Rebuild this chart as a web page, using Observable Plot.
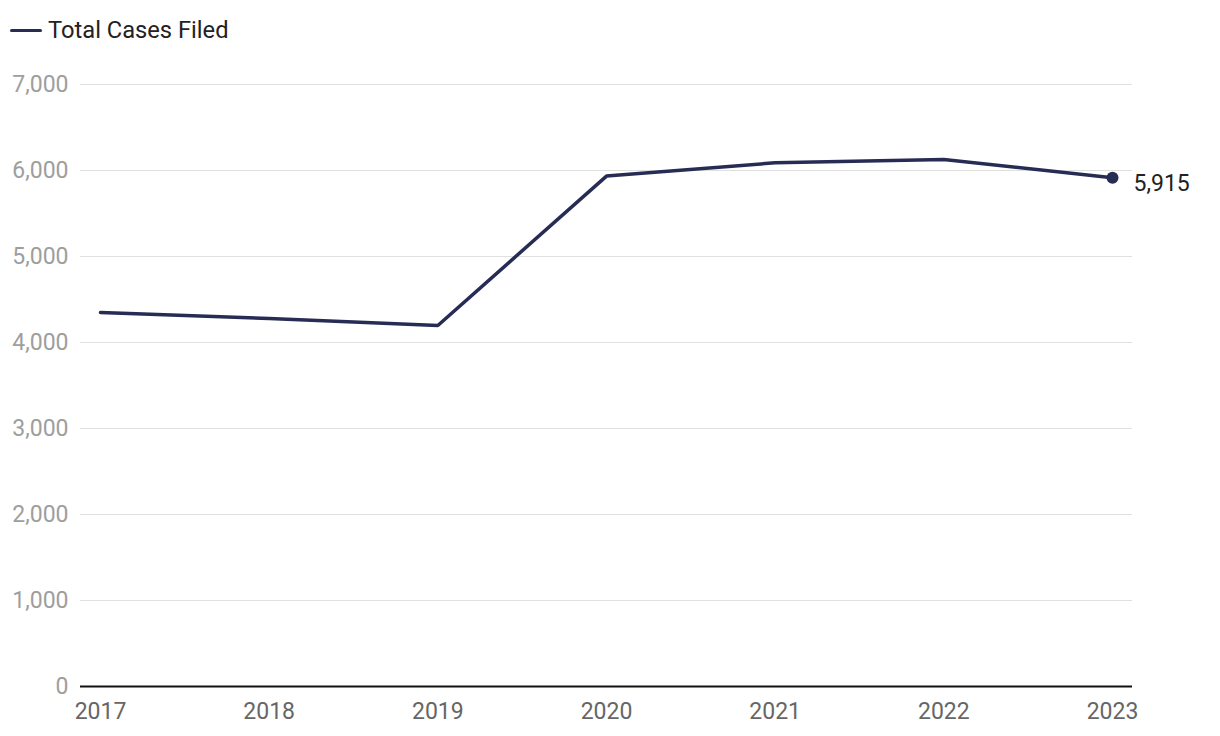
<!DOCTYPE html>
<html>
<head>
<meta charset="utf-8">
<script src="https://cdn.jsdelivr.net/npm/d3@7"></script>
<script src="https://cdn.jsdelivr.net/npm/@observablehq/plot@0.6"></script>
<style>
  html, body { margin: 0; padding: 0; background: #fff; }
  body { width: 1220px; height: 736px; overflow: hidden; font-family: Roboto, sans-serif; }
  #legend { height: 60px; position: relative; }
  #legend .sw { position: absolute; left: 10px; top: 28.5px; width: 32px; height: 3.5px; border-radius: 2px; background: #272c55; }
  #legend .tx { position: absolute; left: 48px; top: 16px; font-size: 23.7px; line-height: 28px; color: #222; }
  #chart svg { display: block; }
</style>
</head>
<body>
<div id="legend"><div class="sw"></div><div class="tx">Total Cases Filed</div></div>
<div id="chart"></div>
<script>
const years = [2017, 2018, 2019, 2020, 2021, 2022, 2023];
const cases = [4350, 4280, 4198, 5935, 6090, 6128, 5915];
const yTicks = [0, 1000, 2000, 3000, 4000, 5000, 6000, 7000];
const seriesName = "Total Cases Filed";
const lineColor = "#272c55";

const data = years.map((y, i) => ({year: y, value: cases[i]}));
const last = data[data.length - 1];

const chart = Plot.plot({
  width: 1220,
  height: 676,
  marginTop: 24,
  marginBottom: 50,
  marginLeft: 80,
  marginRight: 88,
  style: {fontFamily: "Roboto, sans-serif", fontSize: "23px", background: "#fff"},
  x: {domain: [2017, 2023], inset: 20},
  y: {domain: [0, 7000]},
  marks: [
    Plot.ruleY(yTicks.filter(d => d > 0), {stroke: "#e0e0e0", strokeWidth: 1.2}),
    Plot.axisY({ticks: yTicks, tickSize: 0, tickPadding: 12, tickFormat: d3.format(","), color: "#9e9e9e", label: null}),
    Plot.axisX({ticks: years, tickSize: 0, tickPadding: 16, tickFormat: d3.format("d"), color: "#666", label: null}),
    Plot.ruleY([0], {stroke: "#111", strokeWidth: 2}),
    Plot.line(data, {x: "year", y: "value", stroke: lineColor, strokeWidth: 3.5, strokeLinejoin: "miter"}),
    Plot.dot([last], {x: "year", y: "value", r: 6, fill: lineColor}),
    Plot.text([last], {x: "year", y: "value", text: d => d3.format(",")(d.value), dx: 21, dy: 6, textAnchor: "start", fill: "#222", fontSize: 23})
  ]
});
document.getElementById("chart").appendChild(chart);
</script>
</body>
</html>
